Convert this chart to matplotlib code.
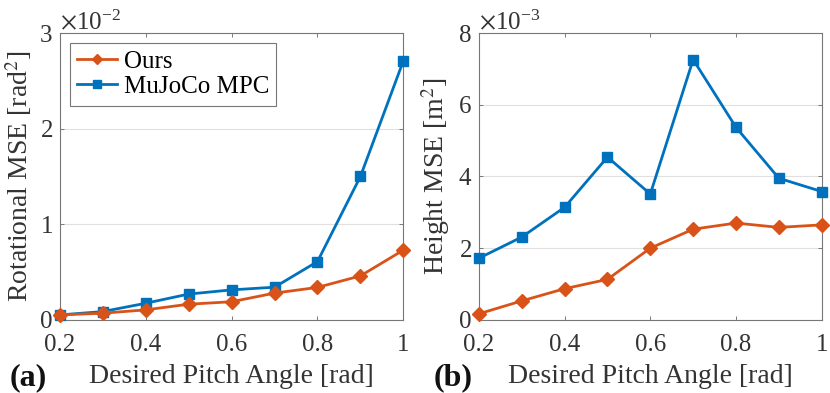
import numpy as np
import matplotlib
matplotlib.use('Agg')
import matplotlib.pyplot as plt
from matplotlib.ticker import ScalarFormatter

plt.rcParams['font.family'] = ['Liberation Serif', 'DejaVu Serif']
plt.rcParams['mathtext.fontset'] = 'stix'

pitch = [0.2, 0.3, 0.4, 0.5, 0.6, 0.7, 0.8, 0.9, 1.0]

# rotational MSE [rad^2]
rot_ours = [0.052e-2, 0.07e-2, 0.105e-2, 0.164e-2, 0.19e-2, 0.28e-2, 0.34e-2, 0.46e-2, 0.73e-2]
rot_mpc = [0.052e-2, 0.087e-2, 0.174e-2, 0.27e-2, 0.314e-2, 0.342e-2, 0.61e-2, 1.5e-2, 2.71e-2]

# height MSE [m^2]
h_ours = [0.17e-3, 0.53e-3, 0.87e-3, 1.13e-3, 2.0e-3, 2.53e-3, 2.70e-3, 2.58e-3, 2.65e-3]
h_mpc = [1.72e-3, 2.31e-3, 3.14e-3, 4.54e-3, 3.51e-3, 7.26e-3, 5.37e-3, 3.95e-3, 3.58e-3]

c_ours = '#D95319'
c_mpc = '#0072BD'
txt = '#333333'

fig = plt.figure(figsize=(8.3, 3.93), dpi=100)
ax1 = fig.add_axes([0.072, 0.186, 0.414, 0.730])
ax2 = fig.add_axes([0.577, 0.186, 0.413, 0.730])


def style(ax, ylim, yticks, ylabel):
    ax.set_xlim(0.2, 1.0)
    ax.set_xticks([0.2, 0.4, 0.6, 0.8, 1.0])
    ax.set_xticklabels(['0.2', '0.4', '0.6', '0.8', '1'])
    ax.set_ylim(*ylim)
    ax.set_yticks(yticks)
    fmt = ScalarFormatter(useMathText=True)
    fmt.set_powerlimits((0, 0))
    ax.yaxis.set_major_formatter(fmt)
    ax.yaxis.get_offset_text().set_fontsize(18)
    ax.yaxis.get_offset_text().set_color(txt)
    ax.grid(axis='y', color='#e0e0e0', lw=0.8)
    ax.set_axisbelow(True)
    ax.tick_params(labelsize=18, labelcolor=txt, color='#777777', direction='in',
                   length=3, width=0.7, top=True, right=True)
    ax.tick_params(axis='x', pad=10)
    ax.tick_params(axis='y', pad=5)
    for s in ax.spines.values():
        s.set_color('#777777')
        s.set_linewidth(0.8)
    ax.set_xlabel('Desired Pitch Angle [rad]', fontsize=20, color=txt, labelpad=6)
    ax.set_ylabel(ylabel, fontsize=20, color=txt, labelpad=4)


ax1.plot(pitch, rot_mpc, color=c_mpc, marker='s', ms=7, lw=2, label='MuJoCo MPC', clip_on=False, zorder=3)
ax1.plot(pitch, rot_ours, color=c_ours, marker='D', ms=7, lw=2, label='Ours', clip_on=False, zorder=4)
style(ax1, (0, 3e-2), [0, 1e-2, 2e-2, 3e-2], 'Rotational MSE [rad$^2$]')
h, l = ax1.get_legend_handles_labels()
leg = ax1.legend(h[::-1], l[::-1], loc='upper left', fontsize=18, fancybox=False,
                 edgecolor='#777777', framealpha=1, borderaxespad=0.4, handlelength=1.6,
                 handletextpad=0.25, labelspacing=0.1, borderpad=0.3, markerscale=0.75)
leg.get_frame().set_linewidth(0.8)

ax2.plot(pitch, h_mpc, color=c_mpc, marker='s', ms=7, lw=2, clip_on=False, zorder=3)
ax2.plot(pitch, h_ours, color=c_ours, marker='D', ms=7, lw=2, clip_on=False, zorder=4)
style(ax2, (0, 8e-3), [0, 2e-3, 4e-3, 6e-3, 8e-3], 'Height MSE [m$^2$]')

fig.text(0.012, 0.02, '(a)', fontsize=23, fontweight='bold', color='#111111')
fig.text(0.523, 0.02, '(b)', fontsize=23, fontweight='bold', color='#111111')

plt.savefig('out.png', dpi=100)
